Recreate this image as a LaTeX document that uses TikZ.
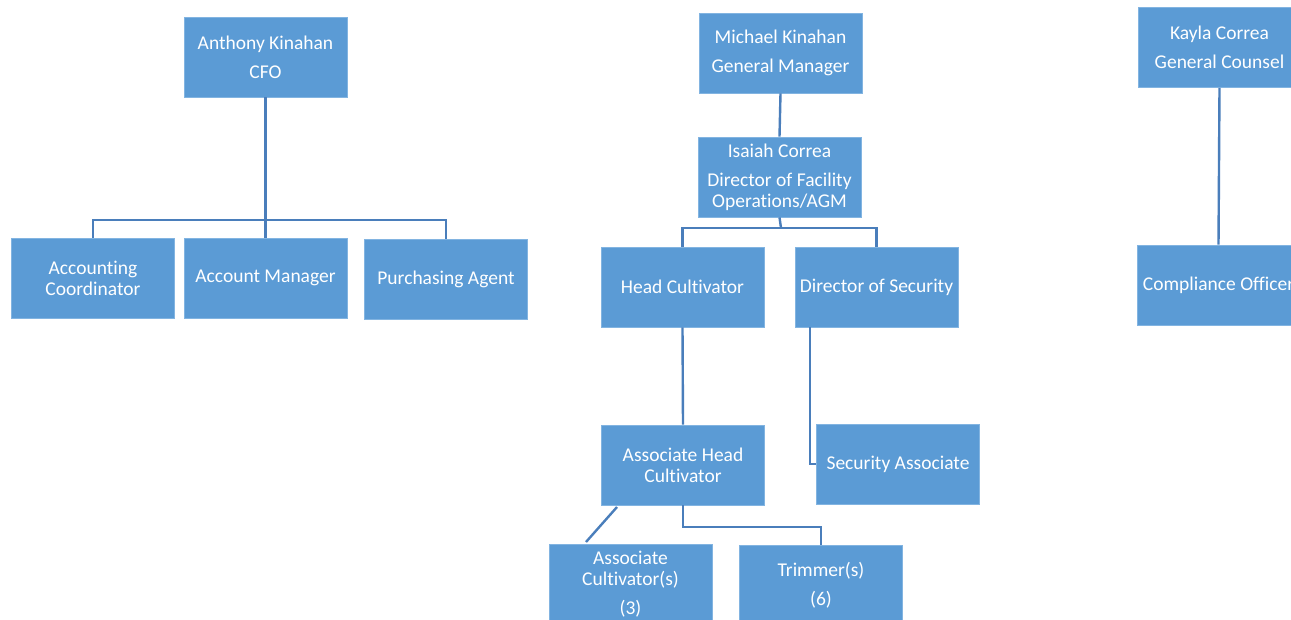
\documentclass[tikz,border=0pt]{standalone}
\usepackage{fontspec}
\setmainfont{Carlito}[Ligatures=NoCommon]
\definecolor{boxfill}{RGB}{91,155,213}
\definecolor{boxedge}{RGB}{130,180,225}
\definecolor{linkcol}{RGB}{74,126,187}
\begin{document}
\begin{tikzpicture}[x=1pt,y=-1pt,
  role/.style={rectangle,fill=boxfill,draw=boxedge,line width=0.8pt,
    minimum width=163pt,minimum height=80pt,inner sep=0pt,
    text=white,align=center,font=\fontsize{19.5}{21}\selectfont},
  link/.style={draw=linkcol,line width=2.4pt}]
\path[use as bounding box] (0,0) rectangle (1291,619);
\clip (0,0) rectangle (1291,619);
\fill[white] (0,0) rectangle (1291,619);
% left group
\node[role] (cfo) at (265.5,57) {Anthony Kinahan\\[8pt]CFO};
\node[role] (acc) at (93,278) {Accounting\\Coordinator};
\node[role] (am) at (265.5,278) {Account Manager};
\node[role] (pa) at (446,279) {Purchasing Agent};
\coordinate (bus1) at (265.5,220);
\draw[link] (cfo.south) -- (am.north);
\draw[link] (acc.north) |- (bus1) -| (pa.north);
% middle group
\node[role] (gm) at (780.5,53) {Michael Kinahan\\[8pt]General Manager};
\node[role] (dfo) at (779.5,177) {Isaiah Correa\\[8pt]Director of Facility\\Operations/AGM};
\node[role] (hc) at (682.5,287) {Head Cultivator};
\node[role] (ds) at (876.5,287) {Director of Security};
\node[role] (ahc) at (683,465) {Associate Head\\Cultivator};
\node[role] (sa) at (898,464) {Security Associate};
\node[role] (ac) at (630.5,584) {Associate\\Cultivator(s)\\[8pt](3)};
\node[role] (tr) at (821,585) {Trimmer(s)\\[8pt](6)};
\draw[link] (gm.south) -- (dfo.north);
\coordinate (bus2) at (781,228);
\draw[link] (dfo.south) -- (bus2);
\draw[link] (hc.north) |- (bus2) -| (ds.north);
\draw[link] (hc.south) -- (ahc.north);
\coordinate (dsdrop) at (810,327);
\draw[link] (dsdrop) |- (sa.west);
\coordinate (acup) at (617,507);
\coordinate (acdown) at (586,542);
\draw[link] (acup) -- (acdown);
\coordinate (bus3) at (683,527);
\draw[link] (ahc.south) -- (bus3) -| (tr.north);
% right group
\node[role] (gc) at (1219.5,47.5) {Kayla Correa\\[8pt]General Counsel};
\node[role] (co) at (1218.5,285) {Compliance Officer};
\draw[link] (gc.south) -- (co.north);
\end{tikzpicture}
\end{document}
